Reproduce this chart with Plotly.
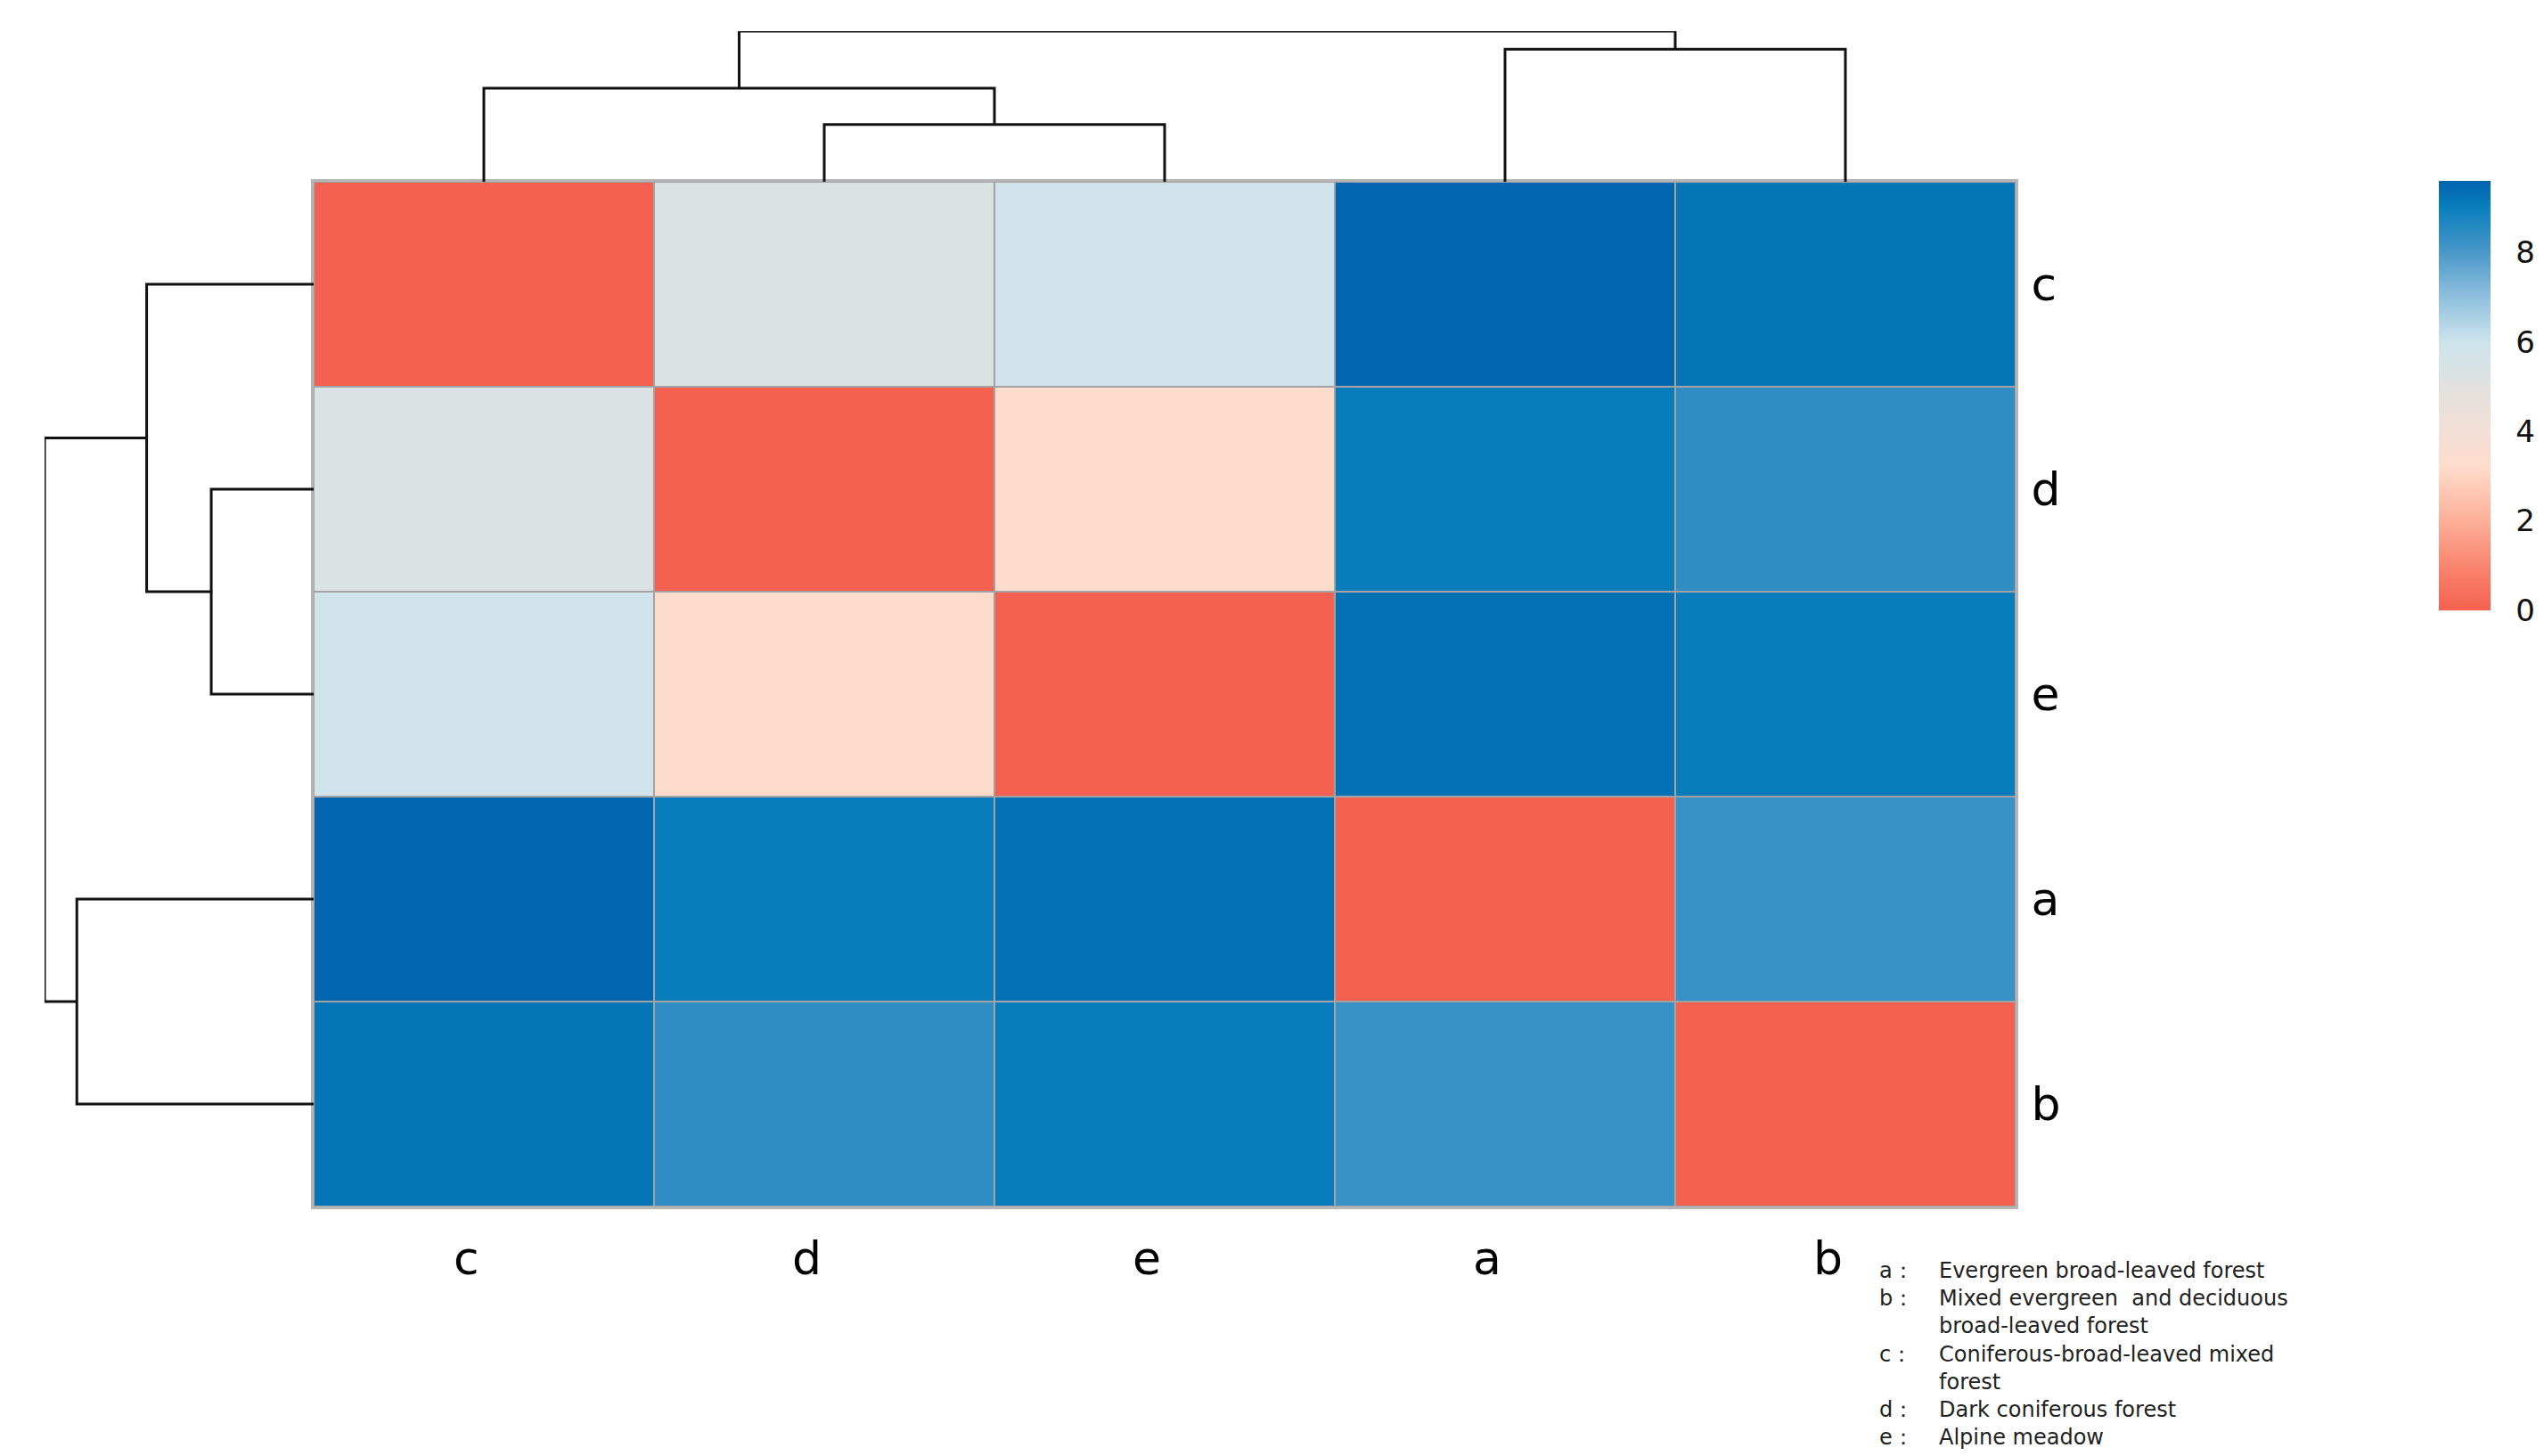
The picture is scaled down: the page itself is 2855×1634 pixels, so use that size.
import plotly.graph_objects as go

# ---------------- data ----------------
labels = ["c", "d", "e", "a", "b"]          # clustered order (rows top->bottom, columns left->right)
row_c = [0.00, 5.30, 5.80, 9.55, 9.20]
row_d = [5.30, 0.00, 3.30, 9.05, 8.40]
row_e = [5.80, 3.30, 0.00, 9.30, 9.05]
row_a = [9.55, 9.05, 9.30, 0.00, 8.30]
row_b = [9.20, 8.40, 9.05, 8.30, 0.00]
matrix = [row_c, row_d, row_e, row_a, row_b]

# hierarchical clustering merges (same for rows and columns) and their heights
merge_pairs = [("d", "e"), ("c", "d|e"), ("a", "b"), ("c|d|e", "a|b")]
merge_heights = [3.33, 5.43, 7.70, 8.75]

cbar_ticks = [0, 2, 4, 6, 8]
zmax = 9.6

legend_keys = ["a：", "b：", "", "c：", "", "d：", "e："]
legend_texts = ["Evergreen broad-leaved forest",
                "Mixed evergreen  and deciduous",
                "broad-leaved forest",
                "Coniferous-broad-leaved mixed",
                "forest",
                "Dark coniferous forest",
                "Alpine meadow"]

# ---------------- layout geometry (pixels -> paper) ----------------
W, H = 2855, 1634
def px(x): return x / W
def py(y): return 1 - y / H

hm_x = [px(344), px(2254)]
hm_y = [py(1346), py(196)]
coldend_y = [py(196), py(27)]
rowdend_x = [px(42), px(344)]

colorscale = [
    [0.000, "#f46150"],
    [1.0 / zmax, "#f9856f"],
    [2.0 / zmax, "#fcaf98"],
    [3.2 / zmax, "#fedccb"],
    [4.0 / zmax, "#f3dfd6"],
    [5.0 / zmax, "#e1e1df"],
    [6.0 / zmax, "#cde4ed"],
    [7.0 / zmax, "#8fc0dd"],
    [8.0 / zmax, "#4a98ca"],
    [9.0 / zmax, "#0a7fbc"],
    [1.000, "#0063ae"],
]

FONT = "DejaVu Sans"

fig = go.Figure()

idx = list(range(len(labels)))
fig.add_trace(go.Heatmap(
    z=matrix, x=idx, y=idx,
    colorscale=colorscale, zmin=0, zmax=zmax,
    xgap=2, ygap=2,
    xaxis="x", yaxis="y",
    hoverinfo="skip",
    colorbar=dict(
        x=px(2729), xanchor="left", xref="paper",
        y=py(195), yanchor="top",
        xpad=0, ypad=0,
        thickness=58, thicknessmode="pixels",
        len=482, lenmode="pixels",
        outlinewidth=0,
        tickvals=cbar_ticks,
        ticks="outside", ticklen=22, tickcolor="rgba(0,0,0,0)",
        tickfont=dict(family=FONT, size=34, color="#111111"),
    ),
))


def dendro_segments(pairs, heights, order):
    pos = {lab: float(i) for i, lab in enumerate(order)}
    hgt = {lab: 0.0 for lab in order}
    segs = []
    for (a, b), h in zip(pairs, heights):
        xa, xb = pos[a], pos[b]
        segs.append(([xa, xa, xb, xb], [hgt[a], h, h, hgt[b]]))
        name = a + "|" + b
        pos[name] = (xa + xb) / 2.0
        hgt[name] = h
    return segs


segs = dendro_segments(merge_pairs, merge_heights, labels)

# column dendrogram (top)
for xs, hs in segs:
    fig.add_trace(go.Scatter(
        x=xs, y=hs, mode="lines", xaxis="x2", yaxis="y2",
        line=dict(color="#111111", width=3), cliponaxis=False,
        hoverinfo="skip", showlegend=False))

# row dendrogram (left)
for xs, hs in segs:
    fig.add_trace(go.Scatter(
        x=hs, y=xs, mode="lines", xaxis="x3", yaxis="y3",
        line=dict(color="#111111", width=3), cliponaxis=False,
        hoverinfo="skip", showlegend=False))

n = len(labels)
cat_range = [-0.5, n - 0.5]
hidden = dict(showgrid=False, zeroline=False, showticklabels=False, ticks="",
              showline=False)

# gray cell-border background under heatmap
fig.add_shape(type="rect", xref="x", yref="y",
              x0=cat_range[0], x1=cat_range[1], y0=cat_range[0], y1=cat_range[1],
              fillcolor="#a3a3a3", line=dict(width=0), layer="below")

fig.update_layout(
    width=W, height=H,
    margin=dict(l=0, r=0, t=0, b=0),
    paper_bgcolor="white", plot_bgcolor="white",
    showlegend=False,
    xaxis=dict(domain=hm_x, range=cat_range, tickvals=idx,
               showticklabels=False, ticks="",
               showgrid=False, zeroline=False,
               showline=True, mirror=True, linecolor="#b5b5b5", linewidth=3),
    yaxis=dict(domain=hm_y, range=[cat_range[1], cat_range[0]], tickvals=idx,
               ticktext=labels, side="right",
               showgrid=False, zeroline=False,
               ticks="outside", ticklen=4, tickcolor="rgba(0,0,0,0)",
               tickfont=dict(family=FONT, size=52, color="#000000"),
               showline=True, mirror=True, linecolor="#b5b5b5", linewidth=3),
    xaxis2=dict(domain=hm_x, range=cat_range, anchor="y2", **hidden),
    yaxis2=dict(domain=coldend_y, range=[0, merge_heights[-1]], anchor="x2", **hidden),
    xaxis3=dict(domain=rowdend_x, range=[merge_heights[-1], 0], anchor="y3", **hidden),
    yaxis3=dict(domain=hm_y, range=[cat_range[1], cat_range[0]], anchor="x3", **hidden),
)

# column labels below the heatmap
for i, lab in enumerate(labels):
    fig.add_annotation(x=i, y=py(1404), xref="x", yref="paper", text=lab,
                       showarrow=False, xanchor="center", yanchor="middle",
                       xshift=-20,
                       font=dict(family=FONT, size=52, color="#000000"))

# description text (lower right): one block for keys, one for descriptions
keys_block = "<br>".join(k if k else " " for k in legend_keys)
text_block = "<br>".join(legend_texts)
desc_font = dict(family=FONT, size=24, color="#222222")
fig.add_annotation(x=px(2099), y=py(1511), xref="paper", yref="paper",
                   text=keys_block, showarrow=False, xanchor="left",
                   yanchor="middle", align="left", font=desc_font)
fig.add_annotation(x=px(2166), y=py(1511), xref="paper", yref="paper",
                   text=text_block, showarrow=False, xanchor="left",
                   yanchor="middle", align="left", font=desc_font)

fig.write_html("out.html")
